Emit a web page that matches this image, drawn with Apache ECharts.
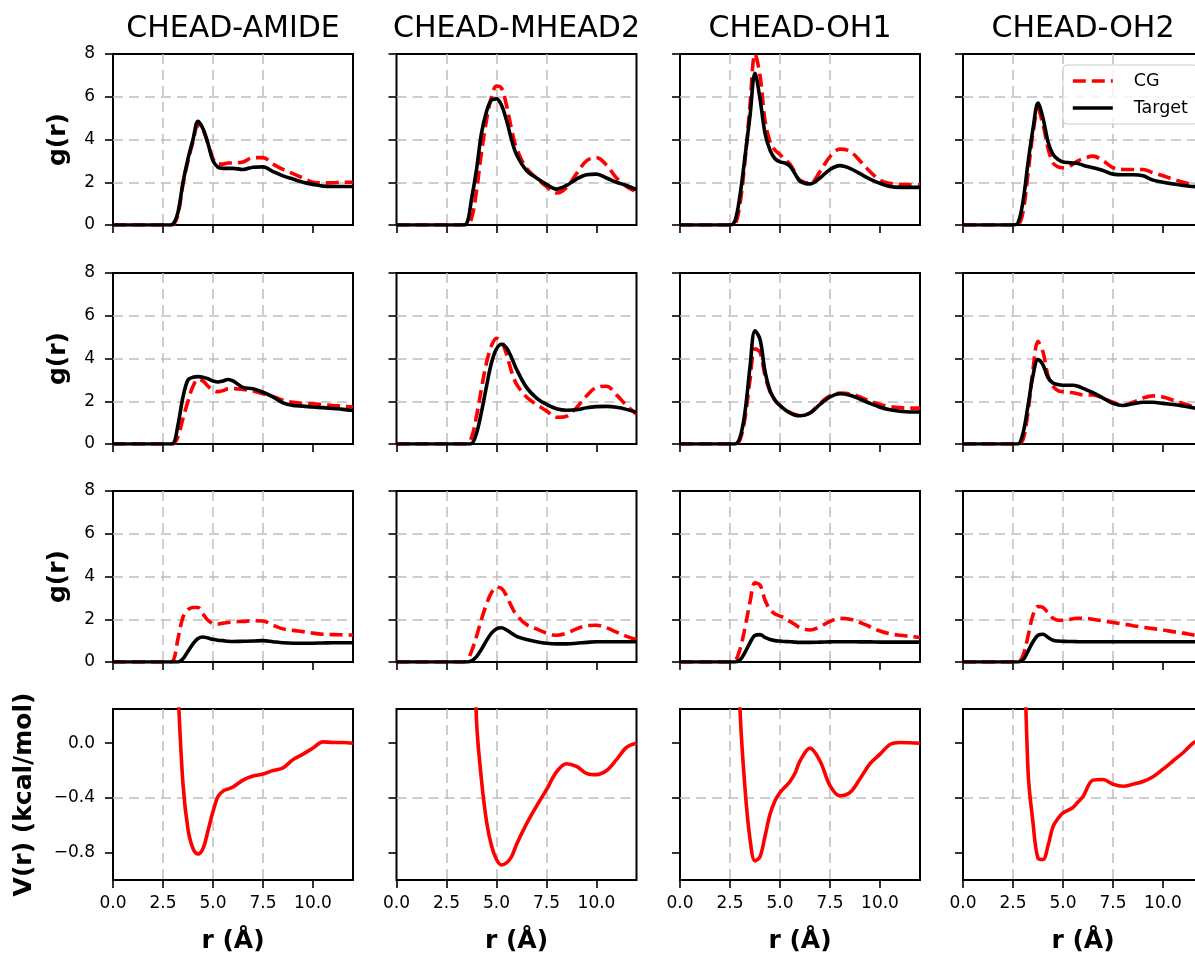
<!DOCTYPE html>
<html>
<head>
<meta charset="utf-8">
<script src="https://cdn.jsdelivr.net/npm/echarts@6/dist/echarts.min.js"></script>
<style>
  html, body { margin: 0; padding: 0; background: #fff; }
  #chart { width: 1195px; height: 953px; }
</style>
</head>
<body>
<div id="chart"></div>
<script>
// r grid (Å), shared by every panel
const r = [0, 2.5, 2.75, 3, 3.25, 3.5, 3.75, 4, 4.25, 4.5, 4.75, 5, 5.25, 5.5, 5.75, 6, 6.5, 7, 7.5, 8, 8.5, 9, 9.5, 10, 10.5, 11, 11.5, 12];

const titles = ['CHEAD-AMIDE', 'CHEAD-MHEAD2', 'CHEAD-OH1', 'CHEAD-OH2'];
const xTicks = [0, 2.5, 5, 7.5, 10];
const gTicks = [0, 2, 4, 6, 8];
const vTicks = [-0.8, -0.4, 0.0];

// row 1 g(r)
const cgR1Amide = [0, 0, 0, 0.02, 0.5, 1.9, 3.0, 3.9, 4.65, 4.45, 3.8, 3.1, 2.85, 2.85, 2.9, 2.9, 2.95, 3.15, 3.15, 2.85, 2.6, 2.4, 2.2, 2.0, 1.97, 1.98, 2.0, 2.0];
const tgR1Amide = [0, 0, 0, 0.05, 0.6, 2.0, 3.1, 4.0, 4.85, 4.5, 3.8, 3.0, 2.7, 2.65, 2.65, 2.65, 2.6, 2.7, 2.72, 2.5, 2.3, 2.15, 2.0, 1.9, 1.82, 1.8, 1.8, 1.8];
const cgR1Mhead = [0, 0, 0, 0, 0, 0, 0.3, 1.6, 3.4, 4.9, 6.0, 6.5, 6.4, 5.6, 4.5, 3.6, 2.65, 2.2, 1.8, 1.5, 1.75, 2.4, 3.0, 3.15, 2.8, 2.2, 1.8, 1.55];
const tgR1Mhead = [0, 0, 0, 0, 0, 0.05, 1.2, 2.6, 4.3, 5.3, 5.85, 5.9, 5.6, 4.9, 4.0, 3.3, 2.55, 2.2, 1.9, 1.68, 1.85, 2.15, 2.35, 2.38, 2.2, 2.0, 1.85, 1.65];
const cgR1Oh1 = [0, 0, 0.05, 1.0, 3.0, 5.6, 8.0, 7.0, 4.9, 3.9, 3.5, 3.3, 3.05, 2.85, 2.45, 2.1, 1.95, 2.5, 3.2, 3.55, 3.45, 3.0, 2.5, 2.1, 1.95, 1.9, 1.88, 1.88];
const tgR1Oh1 = [0, 0, 0.2, 1.4, 3.2, 5.1, 7.1, 5.9, 4.3, 3.5, 3.1, 2.95, 2.9, 2.75, 2.4, 2.05, 1.92, 2.2, 2.6, 2.78, 2.65, 2.4, 2.15, 1.95, 1.8, 1.76, 1.76, 1.76];
const cgR1Oh2 = [0, 0, 0.02, 0.6, 2.4, 4.3, 5.4, 4.7, 3.6, 2.9, 2.72, 2.68, 2.72, 2.85, 3.0, 3.1, 3.22, 3.0, 2.68, 2.6, 2.6, 2.6, 2.45, 2.3, 2.15, 2.0, 1.88, 1.8];
const tgR1Oh2 = [0, 0, 0.1, 1.1, 2.9, 4.5, 5.7, 5.0, 3.9, 3.3, 3.07, 2.95, 2.92, 2.9, 2.88, 2.8, 2.68, 2.55, 2.38, 2.35, 2.35, 2.3, 2.1, 2.0, 1.92, 1.85, 1.8, 1.75];

// row 2 g(r)
const cgR2Amide = [0, 0, 0, 0, 0.35, 1.2, 2.0, 2.7, 3.02, 2.95, 2.7, 2.52, 2.45, 2.5, 2.58, 2.59, 2.55, 2.48, 2.35, 2.22, 2.05, 1.95, 1.9, 1.88, 1.84, 1.8, 1.77, 1.73];
const tgR2Amide = [0, 0, 0, 0.02, 0.9, 2.2, 3.0, 3.12, 3.15, 3.12, 3.05, 2.95, 2.9, 2.95, 3.02, 2.95, 2.65, 2.58, 2.42, 2.2, 1.92, 1.8, 1.77, 1.73, 1.7, 1.66, 1.62, 1.57];
const cgR2Mhead = [0, 0, 0, 0, 0, 0, 0.3, 1.3, 2.6, 3.8, 4.6, 4.95, 4.8, 4.2, 3.4, 2.8, 2.2, 1.85, 1.55, 1.25, 1.3, 1.7, 2.25, 2.65, 2.7, 2.3, 1.8, 1.4];
const tgR2Mhead = [0, 0, 0, 0, 0, 0, 0.02, 0.5, 1.5, 2.7, 3.8, 4.45, 4.67, 4.5, 4.05, 3.5, 2.65, 2.15, 1.85, 1.65, 1.58, 1.6, 1.7, 1.75, 1.76, 1.72, 1.62, 1.48];
const cgR2Oh1 = [0, 0, 0, 0.2, 1.2, 3.0, 4.45, 4.3, 3.2, 2.45, 2.05, 1.8, 1.62, 1.48, 1.38, 1.33, 1.45, 1.9, 2.25, 2.38, 2.35, 2.2, 2.0, 1.85, 1.75, 1.7, 1.68, 1.68];
const tgR2Oh1 = [0, 0, 0, 0.3, 1.5, 3.6, 5.3, 4.9, 3.4, 2.5, 2.05, 1.8, 1.6, 1.45, 1.35, 1.32, 1.45, 1.85, 2.2, 2.35, 2.28, 2.1, 1.9, 1.72, 1.6, 1.53, 1.5, 1.5];
const cgR2Oh2 = [0, 0, 0, 0.2, 1.5, 3.5, 4.8, 4.3, 3.2, 2.7, 2.5, 2.45, 2.42, 2.4, 2.35, 2.3, 2.3, 2.15, 1.95, 1.82, 1.95, 2.15, 2.25, 2.2, 2.05, 1.9, 1.75, 1.62];
const tgR2Oh2 = [0, 0, 0, 0.5, 1.8, 3.2, 3.95, 3.7, 3.1, 2.85, 2.78, 2.75, 2.75, 2.75, 2.7, 2.6, 2.4, 2.15, 1.9, 1.8, 1.88, 1.95, 1.95, 1.9, 1.85, 1.78, 1.7, 1.6];

// row 3 g(r)
const cgR3Amide = [0, 0, 0, 0.05, 1.1, 2.1, 2.45, 2.55, 2.55, 2.25, 1.95, 1.8, 1.78, 1.82, 1.85, 1.88, 1.9, 1.93, 1.92, 1.72, 1.55, 1.48, 1.42, 1.35, 1.3, 1.28, 1.27, 1.26];
const tgR3Amide = [0, 0, 0, 0, 0, 0.15, 0.5, 0.85, 1.1, 1.17, 1.12, 1.06, 1.02, 1.0, 0.97, 0.96, 0.97, 0.98, 1.0, 0.95, 0.9, 0.88, 0.88, 0.88, 0.89, 0.9, 0.9, 0.9];
const cgR3Mhead = [0, 0, 0, 0, 0, 0.05, 0.5, 1.2, 2.0, 2.7, 3.25, 3.5, 3.45, 3.1, 2.6, 2.2, 1.75, 1.55, 1.35, 1.25, 1.35, 1.55, 1.7, 1.72, 1.6, 1.4, 1.2, 1.05];
const tgR3Mhead = [0, 0, 0, 0, 0, 0, 0.05, 0.25, 0.6, 1.0, 1.35, 1.55, 1.6, 1.5, 1.35, 1.2, 1.05, 0.95, 0.88, 0.85, 0.85, 0.88, 0.92, 0.95, 0.95, 0.95, 0.95, 0.95];
const cgR3Oh1 = [0, 0, 0.05, 0.6, 1.6, 2.8, 3.7, 3.6, 2.9, 2.45, 2.25, 2.15, 2.05, 1.9, 1.75, 1.6, 1.5, 1.65, 1.9, 2.05, 2.0, 1.85, 1.65, 1.45, 1.32, 1.25, 1.2, 1.15];
const tgR3Oh1 = [0, 0, 0, 0.1, 0.45, 0.9, 1.25, 1.28, 1.15, 1.05, 1.0, 0.98, 0.96, 0.95, 0.93, 0.92, 0.92, 0.93, 0.94, 0.95, 0.95, 0.94, 0.94, 0.93, 0.93, 0.93, 0.93, 0.93];
const cgR3Oh2 = [0, 0, 0, 0.3, 1.2, 2.2, 2.6, 2.55, 2.3, 2.05, 1.95, 1.95, 1.98, 2.02, 2.05, 2.05, 2.0, 1.92, 1.85, 1.78, 1.7, 1.63, 1.56, 1.5, 1.42, 1.35, 1.27, 1.2];
const tgR3Oh2 = [0, 0, 0, 0.1, 0.5, 0.95, 1.25, 1.3, 1.15, 1.02, 0.98, 0.97, 0.96, 0.96, 0.95, 0.95, 0.95, 0.95, 0.95, 0.95, 0.95, 0.95, 0.95, 0.95, 0.95, 0.95, 0.95, 0.95];

// row 4 V(r) (kcal/mol), null where the curve is far above the plot
const vAmide = [null, null, null, null, 0.4, -0.3, -0.63, -0.77, -0.81, -0.77, -0.64, -0.5, -0.39, -0.35, -0.335, -0.32, -0.27, -0.24, -0.225, -0.2, -0.18, -0.12, -0.08, -0.035, 0.01, 0.005, 0.005, 0];
const vMhead = [null, null, null, null, null, null, 1.5, 0.17, -0.27, -0.57, -0.75, -0.85, -0.89, -0.875, -0.83, -0.74, -0.59, -0.46, -0.34, -0.21, -0.15, -0.17, -0.22, -0.23, -0.2, -0.12, -0.03, 0];
const vOh1 = [null, null, 1.5, 0.25, -0.33, -0.7, -0.86, -0.83, -0.68, -0.52, -0.42, -0.36, -0.32, -0.28, -0.22, -0.13, -0.036, -0.13, -0.31, -0.385, -0.36, -0.26, -0.15, -0.08, -0.01, 0.005, 0.003, 0];
const vOh2 = [null, null, null, 1.2, -0.2, -0.58, -0.84, -0.85, -0.75, -0.61, -0.55, -0.51, -0.49, -0.47, -0.43, -0.39, -0.27, -0.265, -0.3, -0.315, -0.3, -0.28, -0.245, -0.19, -0.13, -0.07, 0.0, 0.04];

const cgRows = [
  [cgR1Amide, cgR1Mhead, cgR1Oh1, cgR1Oh2],
  [cgR2Amide, cgR2Mhead, cgR2Oh1, cgR2Oh2],
  [cgR3Amide, cgR3Mhead, cgR3Oh1, cgR3Oh2]
];
const tgRows = [
  [tgR1Amide, tgR1Mhead, tgR1Oh1, tgR1Oh2],
  [tgR2Amide, tgR2Mhead, tgR2Oh1, tgR2Oh2],
  [tgR3Amide, tgR3Mhead, tgR3Oh1, tgR3Oh2]
];
const vRow = [vAmide, vMhead, vOh1, vOh2];

// panel layout (px)
const colLeft = [113, 396.5, 680, 963];
const rowTop = [54, 273, 491, 709];
const panelW = 240;
const panelH = 171;
const font = 'DejaVu Sans';
const lineW = 3.6;
const gridLine = { color: '#bfbfbf', width: 1.5, type: [10, 6] };

const pairs = arr => r.map((x, k) => [x, arr[k]]);
const minus = s => s.replace('-', '\u2212');

const grids = [];
const xAxes = [];
const yAxes = [];
const series = [];

for (let i = 0; i < 4; i++) {
  for (let j = 0; j < 4; j++) {
    const k = grids.length;
    const isV = i === 3;
    grids.push({
      left: colLeft[j], top: rowTop[i], width: panelW, height: panelH,
      show: true, borderColor: '#000', borderWidth: 2,
      backgroundColor: 'transparent', containLabel: false, outerBoundsMode: 'none'
    });
    xAxes.push({
      gridIndex: k, type: 'value', min: 0, max: 12, interval: 2.5,
      axisLine: { show: false, onZero: false },
      axisTick: { show: true, length: 8, customValues: xTicks, lineStyle: { color: '#000', width: 1.6 } },
      axisLabel: {
        show: isV, customValues: xTicks, margin: 15, color: '#000',
        fontSize: 17, fontFamily: font, formatter: v => v.toFixed(1)
      },
      splitLine: { show: true, showMinLine: false, showMaxLine: false, lineStyle: gridLine },
      name: isV ? 'r (Å)' : '', nameLocation: 'middle', nameGap: 49,
      nameTextStyle: { fontSize: 25, fontWeight: 'bold', fontFamily: font, color: '#000' }
    });
    const ticks = isV ? vTicks : gTicks;
    yAxes.push({
      gridIndex: k, type: 'value',
      min: isV ? -1.0 : 0, max: isV ? 0.25 : 8,
      axisLine: { show: false, onZero: false },
      axisTick: { show: true, length: 8, customValues: ticks, lineStyle: { color: '#000', width: 1.6 } },
      axisLabel: {
        show: j === 0, customValues: ticks, margin: 18, color: '#000',
        fontSize: 17, fontFamily: font,
        formatter: v => isV ? minus(v.toFixed(1)) : String(v)
      },
      splitLine: { show: true, showMinLine: false, showMaxLine: false, lineStyle: gridLine },
      name: j === 0 ? (isV ? 'V(r) (kcal/mol)' : 'g(r)') : '',
      nameLocation: 'middle', nameGap: isV ? 76 : 42,
      nameTextStyle: { fontSize: 25, fontWeight: 'bold', fontFamily: font, color: '#000' }
    });

    if (isV) {
      series.push({
        type: 'line', name: 'V', xAxisIndex: k, yAxisIndex: k,
        data: pairs(vRow[j]), symbol: 'none', smooth: 0.35, silent: true,
        lineStyle: { color: '#ff0000', width: lineW }, itemStyle: { color: '#ff0000' }
      });
    } else {
      series.push({
        type: 'line', name: 'CG', xAxisIndex: k, yAxisIndex: k,
        data: pairs(cgRows[i][j]), symbol: 'none', smooth: 0.35, silent: true,
        lineStyle: { color: '#ff0000', width: lineW, type: [13, 6] }, itemStyle: { color: '#ff0000' }
      });
      series.push({
        type: 'line', name: 'Target', xAxisIndex: k, yAxisIndex: k,
        data: pairs(tgRows[i][j]), symbol: 'none', smooth: 0.35, silent: true,
        lineStyle: { color: '#000', width: lineW }, itemStyle: { color: '#000' }
      });
    }
  }
}

const chart = echarts.init(document.getElementById('chart'));
chart.setOption({
  animation: false,
  backgroundColor: '#fff',
  grid: grids,
  xAxis: xAxes,
  yAxis: yAxes,
  series: series,
  legend: {
    data: ['CG', 'Target'], orient: 'vertical', left: 1063, top: 65,
    itemWidth: 40, itemHeight: 12, itemGap: 9, padding: [7, 10, 7, 8],
    borderColor: '#ccc', borderWidth: 1, borderRadius: 4,
    backgroundColor: 'rgba(255,255,255,0.8)', selectedMode: false,
    itemStyle: { opacity: 0, color: 'rgba(0,0,0,0)', borderWidth: 0 },
    lineStyle: { width: lineW },
    textStyle: { fontSize: 17.5, fontFamily: font, color: '#000', padding: [0, 0, 0, 16] }
  },
  graphic: titles.map((t, j) => ({
    type: 'text', x: colLeft[j] + panelW / 2, y: 29,
    style: { text: t, fontSize: 30, fontFamily: font, fill: '#000', align: 'center', verticalAlign: 'middle' }
  }))
});
</script>
</body>
</html>
